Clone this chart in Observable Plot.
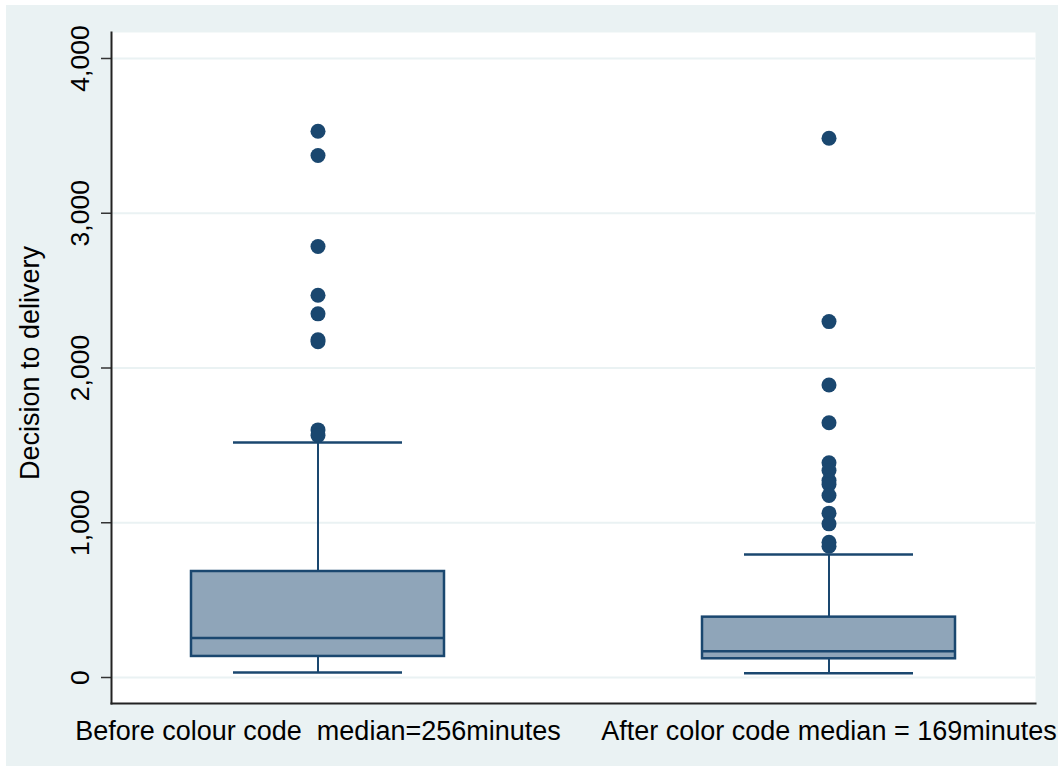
<!DOCTYPE html>
<html>
<head>
<meta charset="utf-8">
<script src="https://cdn.jsdelivr.net/npm/d3@7"></script>
<script src="https://cdn.jsdelivr.net/npm/@observablehq/plot@0.6"></script>
<style>
  html, body { margin: 0; padding: 0; background: #ffffff; }
  #panel { position: absolute; left: 6px; top: 5px; width: 1052px; height: 761px; background: #eaf2f3; }
  #panel svg text { white-space: pre; }
</style>
</head>
<body>
<div id="panel"></div>
<script>
// ---- data ----
const categories = ["Before colour code  median=256minutes", "After color code median = 169minutes"];
const lowerWhisker = [32, 28];
const q1 = [136, 121];
const median = [256, 169];
const q3 = [685, 390];
const upperWhisker = [1519, 795];
const outliersBefore = [3530, 3373, 2785, 2470, 2350, 2182, 2170, 1600, 1564];
const outliersAfter = [3485, 2300, 1890, 1646, 1387, 1338, 1273, 1247, 1176, 1062, 993, 874, 848];
const yTicks = [0, 1000, 2000, 3000, 4000];
const yTitle = "Decision to delivery";

// ---- tables ----
const boxes = categories.map((c, i) => ({
  cat: c, lo: lowerWhisker[i], q1: q1[i], med: median[i], q3: q3[i], hi: upperWhisker[i]
}));
const outliers = [
  ...outliersBefore.map(v => ({cat: categories[0], v})),
  ...outliersAfter.map(v => ({cat: categories[1], v}))
];

const navy = "#1a476f";
const fmt = d3.format(",");

const chart = Plot.plot({
  width: 1052,
  height: 761,
  marginLeft: 105,
  marginRight: 23,
  marginTop: 27,
  marginBottom: 63,
  style: {background: "transparent", fontFamily: "'Liberation Sans', Arial, sans-serif", color: "#000"},
  x: {type: "band", domain: categories, paddingInner: 0.504, paddingOuter: 0.1546, label: null},
  y: {domain: [-168, 4168], label: null},
  marks: [
    Plot.frame({fill: "white", stroke: "none"}),
    Plot.ruleY(yTicks, {stroke: "#eaf2f3", strokeWidth: 2}),
    Plot.axisY({ticks: yTicks, tickSize: 10, tickFormat: () => "", stroke: "#333", strokeWidth: 1.5, label: null}),
    Plot.text(yTicks, {y: d => d, text: d => fmt(d), frameAnchor: "left", dx: -30.5, rotate: -90, textAnchor: "middle", lineAnchor: "middle", fontSize: 26.5, fill: "#000"}),
    Plot.text([yTitle], {text: d => d, frameAnchor: "left", dx: -81, dy: -5, rotate: -90, textAnchor: "middle", lineAnchor: "middle", fontSize: 27, fill: "#000"}),
    Plot.ruleX(boxes, {x: "cat", y1: "q3", y2: "hi", stroke: navy, strokeWidth: 2}),
    Plot.ruleX(boxes, {x: "cat", y1: "lo", y2: "q1", stroke: navy, strokeWidth: 2}),
    Plot.tickY(boxes, {x: "cat", y: "hi", stroke: navy, strokeWidth: 2.5, insetLeft: 42, insetRight: 42}),
    Plot.tickY(boxes, {x: "cat", y: "lo", stroke: navy, strokeWidth: 2.5, insetLeft: 42, insetRight: 42}),
    Plot.barY(boxes, {x: "cat", y1: "q1", y2: "q3", fill: "#8fa5b9", stroke: navy, strokeWidth: 2.5}),
    Plot.tickY(boxes, {x: "cat", y: "med", stroke: navy, strokeWidth: 2.5}),
    Plot.dot(outliers, {x: "cat", y: "v", r: 7.5, fill: navy, stroke: "none"}),
    Plot.frame({anchor: "left", stroke: "#222", strokeWidth: 2}),
    Plot.frame({anchor: "bottom", stroke: "#222", strokeWidth: 2}),
    Plot.axisX({tickSize: 0, tickPadding: 17, fontSize: 27, label: null, fill: "#000"})
  ]
});
document.getElementById("panel").appendChild(chart);
</script>
</body>
</html>
